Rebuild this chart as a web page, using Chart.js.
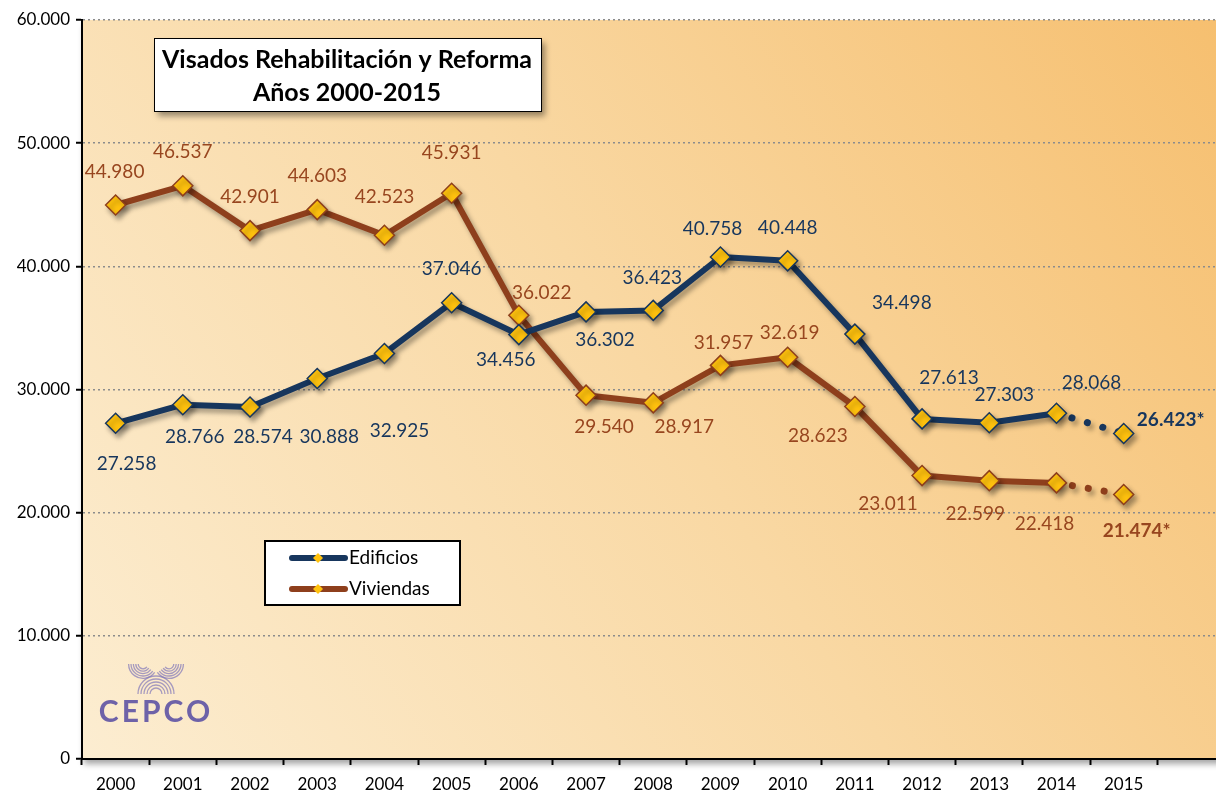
<!DOCTYPE html>
<html>
<head>
<meta charset="utf-8">
<script src="https://cdn.jsdelivr.net/npm/chart.js@4/dist/chart.umd.min.js"></script>
<style>
  html, body { margin: 0; padding: 0; background: #fff; overflow: hidden; }
  #grafico { position: absolute; left: 0; top: 0; }
</style>
</head>
<body>
<canvas id="grafico" width="1236" height="795"></canvas>
<script>
// Datos del gráfico
const anios = ['2000', '2001', '2002', '2003', '2004', '2005', '2006', '2007',
               '2008', '2009', '2010', '2011', '2012', '2013', '2014', '2015', ''];
const edificios = [27258, 28766, 28574, 30888, 32925, 37046, 34456, 36302,
                   36423, 40758, 40448, 34498, 27613, 27303, 28068, 26423];
const viviendas = [44980, 46537, 42901, 44603, 42523, 45931, 36022, 29540,
                   28917, 31957, 32619, 28623, 23011, 22599, 22418, 21474];
const ticksY = [0, 10000, 20000, 30000, 40000, 50000, 60000];

// Posición de las etiquetas respecto a cada punto (dx, dy)
const offEdificios = [[11, 41], [12, 32], [13, 30], [12, 58], [15, 77], [0, -34], [-13, 25], [19, 28],
                      [-1, -33], [-8, -28], [0, -33], [47, -31], [27, -41], [15, -28], [35, -30], [47, -14]];
const offViviendas = [[-1, -33], [0, -34], [0, -34], [0, -34], [0, -38], [0, -40], [23, -22], [18, 32],
                      [31, 24], [3, -23], [2, -24], [-37, 29], [-34, 28], [-14, 33], [-12, 41], [13, 36]];

const AZUL = '#17365D';
const MARRON = '#8E3F1C';
const AMARILLO = '#FFC20E';
const FUENTE = 'Lato, "Noto Sans", sans-serif';

function fmt(v) {
    return v === 0 ? '0' : (v / 1000).toFixed(3);
}

// Fondo degradado del área del gráfico
const fondoPlugin = {
    id: 'fondo',
    beforeDraw(chart) {
        const { ctx, chartArea: a } = chart;
        const g = ctx.createLinearGradient(a.left, a.bottom, a.right, a.top);
        g.addColorStop(0, '#FCEDD1');
        g.addColorStop(0.5, '#F9D8A3');
        g.addColorStop(1, '#F6BF6F');
        ctx.save();
        ctx.shadowColor = 'rgba(0,0,0,0.35)';
        ctx.shadowOffsetY = 5;
        ctx.shadowOffsetX = 2;
        ctx.shadowBlur = 6;
        ctx.fillStyle = g;
        ctx.fillRect(a.left, a.top, a.right - a.left, a.bottom - a.top);
        ctx.restore();

        // logo CEPCO
        ctx.save();
        ctx.strokeStyle = 'rgba(130,120,185,0.7)';
        ctx.lineWidth = 1.3;
        for (let r = 6; r <= 18; r += 3) {
            ctx.beginPath();
            ctx.arc(156, 694, r, Math.PI, 2 * Math.PI);
            ctx.stroke();
            ctx.beginPath();
            ctx.arc(143, 664, r * 0.8, 0.2 * Math.PI, 1.0 * Math.PI);
            ctx.stroke();
            ctx.beginPath();
            ctx.arc(169, 664, r * 0.8, 0, 0.8 * Math.PI);
            ctx.stroke();
        }
        ctx.fillStyle = '#6E62A8';
        ctx.font = 'bold 30px ' + FUENTE;
        ctx.letterSpacing = '3px';
        ctx.textAlign = 'center';
        ctx.textBaseline = 'middle';
        ctx.fillText('CEPCO', 156, 712);
        ctx.restore();
    }
};

// Sombra de las líneas
const sombraPlugin = {
    id: 'sombra',
    beforeDatasetsDraw(chart) {
        const ctx = chart.ctx;
        ctx.save();
        ctx.shadowColor = 'rgba(0,0,0,0.35)';
        ctx.shadowOffsetX = 3;
        ctx.shadowOffsetY = 4;
        ctx.shadowBlur = 5;
    },
    afterDatasetsDraw(chart) {
        chart.ctx.restore();
    }
};

// Etiquetas, título y leyenda
const textosPlugin = {
    id: 'textos',
    afterDraw(chart) {
        const ctx = chart.ctx;
        ctx.save();
        ctx.textAlign = 'center';
        ctx.textBaseline = 'middle';

        const series = [
            { idx: 0, valores: edificios, off: offEdificios, color: AZUL },
            { idx: 1, valores: viviendas, off: offViviendas, color: '#98461F' }
        ];
        series.forEach(s => {
            const meta = chart.getDatasetMeta(s.idx);
            s.valores.forEach((v, i) => {
                const p = meta.data[i];
                const ultimo = i === s.valores.length - 1;
                ctx.font = (ultimo ? 'bold ' : '') + '19px ' + FUENTE;
                ctx.fillStyle = s.color;
                ctx.fillText(fmt(v) + (ultimo ? '*' : ''), p.x + s.off[i][0], p.y + s.off[i][1]);
            });
        });

        // Cuadro del título
        ctx.shadowColor = 'rgba(0,0,0,0.4)';
        ctx.shadowOffsetX = 4;
        ctx.shadowOffsetY = 5;
        ctx.shadowBlur = 6;
        ctx.fillStyle = '#fff';
        ctx.fillRect(154, 38, 387, 73);
        ctx.shadowColor = 'transparent';
        ctx.strokeStyle = '#000';
        ctx.lineWidth = 1;
        ctx.strokeRect(154.5, 38.5, 387, 73);
        ctx.fillStyle = '#000';
        ctx.font = 'bold 25px ' + FUENTE;
        ctx.fillText('Visados Rehabilitación y Reforma', 347, 60);
        ctx.fillText('Años 2000-2015', 347, 93);

        // Leyenda
        ctx.fillStyle = '#fff';
        ctx.fillRect(265, 541, 195, 64);
        ctx.lineWidth = 2;
        ctx.strokeRect(265, 541, 195, 64);
        [[AZUL, 'Edificios', 558], [MARRON, 'Viviendas', 589]].forEach(([c, t, y]) => {
            ctx.strokeStyle = c;
            ctx.lineWidth = 6;
            ctx.lineCap = 'round';
            ctx.beginPath();
            ctx.moveTo(292, y);
            ctx.lineTo(345, y);
            ctx.stroke();
            ctx.fillStyle = AMARILLO;
            ctx.beginPath();
            ctx.moveTo(318, y - 5);
            ctx.lineTo(323, y);
            ctx.lineTo(318, y + 5);
            ctx.lineTo(313, y);
            ctx.closePath();
            ctx.fill();
            ctx.fillStyle = '#000';
            ctx.textAlign = 'left';
            ctx.font = '19px ' + FUENTE;
            ctx.fillText(t, 349, y);
        });
        ctx.restore();
    }
};

const punteado = ctx => ctx.p1DataIndex === 15 ? [0.1, 16] : undefined;

const ctx = document.getElementById('grafico').getContext('2d');
new Chart(ctx, {
    type: 'line',
    data: {
        labels: anios,
        datasets: [{
            label: 'Edificios',
            data: edificios,
            borderColor: AZUL,
            borderWidth: 6,
            borderCapStyle: 'round',
            borderJoinStyle: 'round',
            pointStyle: 'rectRot',
            pointRadius: 10,
            pointBackgroundColor: AMARILLO,
            pointBorderColor: AZUL,
            pointBorderWidth: 1.5,
            segment: { borderDash: punteado, borderWidth: ctx => ctx.p1DataIndex === 15 ? 7 : undefined }
        }, {
            label: 'Viviendas',
            data: viviendas,
            borderColor: MARRON,
            borderWidth: 6,
            borderCapStyle: 'round',
            borderJoinStyle: 'round',
            pointStyle: 'rectRot',
            pointRadius: 10,
            pointBackgroundColor: AMARILLO,
            pointBorderColor: MARRON,
            pointBorderWidth: 1.5,
            segment: { borderDash: punteado, borderWidth: ctx => ctx.p1DataIndex === 15 ? 7 : undefined }
        }]
    },
    options: {
        responsive: false,
        animation: false,
        layout: { padding: { top: 20, left: 0, right: 2, bottom: 0 } },
        plugins: {
            legend: { display: false },
            tooltip: { enabled: false }
        },
        scales: {
            x: {
                offset: true,
                afterFit: s => { s.height = 36; },
                grid: {
                    offset: true,
                    drawOnChartArea: false,
                    tickLength: 6,
                    tickColor: '#000',
                    tickWidth: 2
                },
                border: { color: '#000', width: 2 },
                ticks: {
                    color: '#000',
                    padding: 9,
                    maxRotation: 0,
                    autoSkip: false,
                    font: { family: FUENTE, size: 17 }
                }
            },
            y: {
                min: 0,
                max: 60000,
                afterFit: s => { s.width = 82; },
                afterBuildTicks: s => { s.ticks = ticksY.map(v => ({ value: v })); },
                grid: {
                    color: ctx => ctx.tick.value === 0 ? 'transparent' : '#8C8C8C',
                    lineWidth: 1.5,
                    tickLength: 6,
                    tickColor: '#000',
                    tickWidth: 2,
                    tickBorderDash: []
                },
                border: { color: '#000', width: 2, dash: [2, 3] },
                ticks: {
                    color: '#000',
                    padding: 6,
                    font: { family: FUENTE, size: 17 },
                    callback: v => fmt(v)
                }
            }
        }
    },
    plugins: [fondoPlugin, sombraPlugin, textosPlugin]
});
</script>
</body>
</html>
